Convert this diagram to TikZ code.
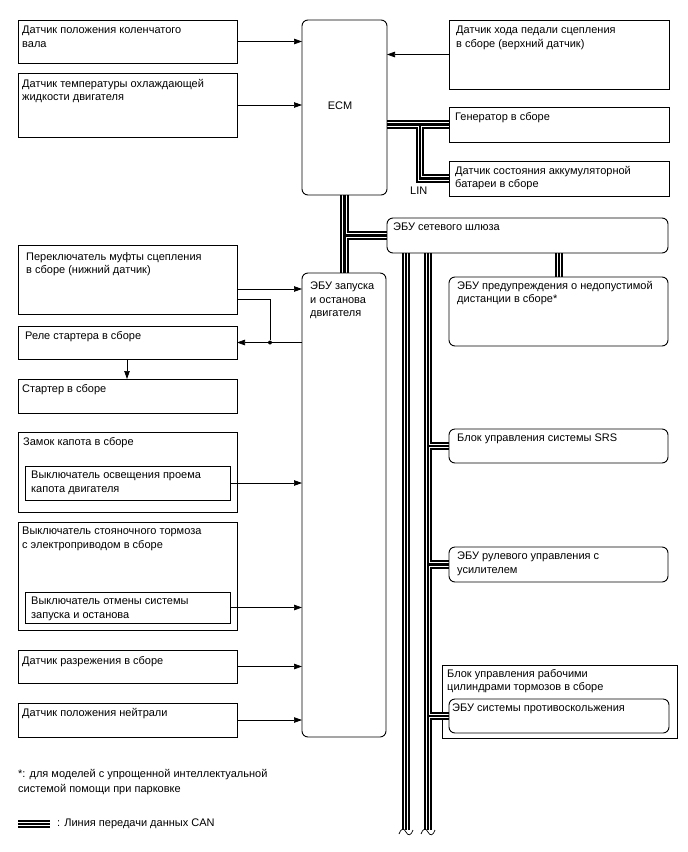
\documentclass[tikz,border=0pt]{standalone}
\usepackage{fontspec}
\setmainfont{Liberation Sans}
\usetikzlibrary{arrows.meta,calc}
\pgfdeclarelayer{back}
\pgfdeclarelayer{bg}
\pgfsetlayers{back,bg,main}
\newcommand\bx[6]{\node[#6, minimum width={#4-#2}, minimum height={#5-#3}] (#1) at (#2,#3) {};}
\begin{document}
\begin{tikzpicture}[x=1pt,y=-1pt,
  box/.style={draw, line width=0.9pt, anchor=north west, inner sep=0pt, outer sep=0pt},
  rbox/.style={box, rounded corners=6pt},
  ghost/.style={anchor=north west, inner sep=0pt, outer sep=0pt},
  lbl/.style={anchor=north west, inner sep=0pt, align=left, font=\fontsize{11}{13.5}\selectfont},
  sig/.style={line width=0.7pt, -{Triangle[length=8pt,width=5.5pt]}},
  wire/.style={line width=0.7pt},
  dotc/.style={circle, fill, inner sep=0pt, minimum size=4pt}
]
\begin{pgfonlayer}{back}
\fill[white] (0,0) rectangle (688,852);
\end{pgfonlayer}
\useasboundingbox (0,0) rectangle (688,852);

% boxes
\bx{crank}{18}{20}{237}{63}{box}
\bx{cool}{18}{73}{237}{137}{box}
\bx{clo}{18}{245}{237}{314}{box}
\bx{relay}{18}{326}{237}{359}{box}
\bx{starter}{18}{379}{237}{413}{box}
\bx{hood}{18}{432}{237}{512}{box}
\bx{hoodsw}{25}{466}{230}{500}{box}
\bx{epb}{18}{522}{237}{630}{box}
\bx{cancel}{25}{592}{230}{623}{box}
\bx{vac}{18}{650}{237}{683}{box}
\bx{neut}{18}{703}{237}{737}{box}
\bx{ecm}{302}{20}{387}{195}{rbox}
\bx{sst}{302}{273}{386}{737}{rbox}
\bx{cup}{449}{20}{669}{89}{box}
\bx{gen}{449}{107}{669}{142}{box}
\bx{bat}{449}{161}{669}{196}{box}
\bx{gw}{387}{218}{668}{253}{rbox}
\bx{warn}{449}{277}{668}{346}{rbox}
\bx{srs}{449}{429}{668}{463}{rbox}
\bx{eps}{449}{547}{668}{582}{rbox}
\bx{brk}{442}{665}{677}{738}{ghost}
\bx{abs}{449}{699}{669}{733}{rbox}
\begin{pgfonlayer}{back}
\draw[line width=0.9pt] (brk.north west) rectangle (brk.south east);
\end{pgfonlayer}

% texts
\node[lbl] (crank-t) at (22,26) {Датчик положения коленчатого\\вала};
\node[lbl] (cool-t) at (22,79) {Датчик температуры охлаждающей\\жидкости двигателя};
\node[lbl] (clo-t) at (26,252) {Переключатель муфты сцепления\\в сборе (нижний датчик)};
\node[lbl] (relay-t) at (25,331) {Реле стартера в сборе};
\node[lbl] (starter-t) at (22,384) {Стартер в сборе};
\node[lbl] (hood-t) at (23,437) {Замок капота в сборе};
\node[lbl] (hoodsw-t) at (31,471) {Выключатель освещения проема\\капота двигателя};
\node[lbl] (epb-t) at (22,527) {Выключатель стояночного тормоза\\с электроприводом в сборе};
\node[lbl] (cancel-t) at (31,597) {Выключатель отмены системы\\запуска и останова};
\node[lbl] (vac-t) at (22,656) {Датчик разрежения в сборе};
\node[lbl] (neut-t) at (22,708) {Датчик положения нейтрали};
\node[font=\fontsize{11}{13}\selectfont, inner sep=0pt] (ecm-t) at (340,106) {ECM};
\node[lbl] (sst-t) at (310,282) {ЭБУ запуска\\и останова\\двигателя};
\node[lbl] (cup-t) at (456,26) {Датчик хода педали сцепления\\в сборе (верхний датчик)};
\node[lbl] (gen-t) at (455,112) {Генератор в сборе};
\node[lbl] (bat-t) at (455,166) {Датчик состояния аккумуляторной\\батареи в сборе};
\node[lbl] (lin-t) at (410,187) {LIN};
\node[lbl] (gw-t) at (393,223) {ЭБУ сетевого шлюза};
\node[lbl] (warn-t) at (457,281) {ЭБУ предупреждения о недопустимой\\дистанции в сборе*};
\node[lbl] (srs-t) at (457,434) {Блок управления системы SRS};
\node[lbl] (eps-t) at (457,552) {ЭБУ рулевого управления с\\усилителем};
\node[lbl] (brk-t) at (447,669) {Блок управления рабочими\\цилиндрами тормозов в сборе};
\node[lbl] (abs-t) at (452,704) {ЭБУ системы противоскольжения};
\node[lbl, font=\fontsize{11}{15}\selectfont] (note-t) at (18,769) {*: для моделей с упрощенной интеллектуальной\\системой помощи при парковке};
\node[lbl, anchor=west] (lg-t) at (57,824) {: Линия передачи данных CAN};

% CAN / LIN lines
\coordinate (b1b) at (406,830);
\coordinate (b2b) at (428,830);
\coordinate (lg1) at (18,824);
\coordinate (lg2) at (50,824);
\begin{pgfonlayer}{bg}
\foreach \w/\c in {8.5/black,4.6/white,2.2/black}{
  \draw[line width=\w pt, color=\c]
    (ecm.south) -- (ecm.south |- sst.north)
    (ecm.south |- gw.west) -- (gw.west)
    (406,0 |- gw.south) -- (b1b)
    (428,0 |- gw.south) -- (b2b)
    (428,0 |- srs.west) -- (srs.west)
    (428,0 |- eps.west) -- (eps.west)
    (428,0 |- abs.west) -- (abs.west)
    (559,0 |- gw.south) -- (559,0 |- warn.north)
    (ecm.east |- gen.west) -- (gen.west)
    (420,0 |- gen.west) -- (420,0 |- bat.west) -- (bat.west)
    (lg1) -- (lg2);
}
\end{pgfonlayer}
\foreach \p in {b1b,b2b}{
  \draw[wire] ($(\p)+(-7,4)$) .. controls ($(\p)+(-5,-2)$) and ($(\p)+(-2,-2)$) .. ($(\p)+(0,2)$)
     .. controls ($(\p)+(2,6)$) and ($(\p)+(5,6)$) .. ($(\p)+(7,0)$);
}

% signal lines
\draw[sig] (crank.east) -- (crank.east -| ecm.west);
\draw[sig] (cool.east) -- (cool.east -| ecm.west);
\draw[sig] (cup.west) -- (cup.west -| ecm.east);
\draw[sig] (clo.east |- 0,289) -- (sst.west |- 0,289);
\node[dotc] (jd) at (270,0 |- relay.east) {};
\draw[wire] (clo.east |- 0,299) -| (jd);
\draw[sig] (relay.east -| sst.west) -- (relay.east);
\draw[sig] (127,0 |- relay.south) -- (127,0 |- starter.north);
\draw[sig] (hoodsw.east) -- (hoodsw.east -| sst.west);
\draw[sig] (cancel.east) -- (cancel.east -| sst.west);
\draw[sig] (vac.east) -- (vac.east -| sst.west);
\draw[sig] (neut.east) -- (neut.east -| sst.west);
\end{tikzpicture}
\end{document}
